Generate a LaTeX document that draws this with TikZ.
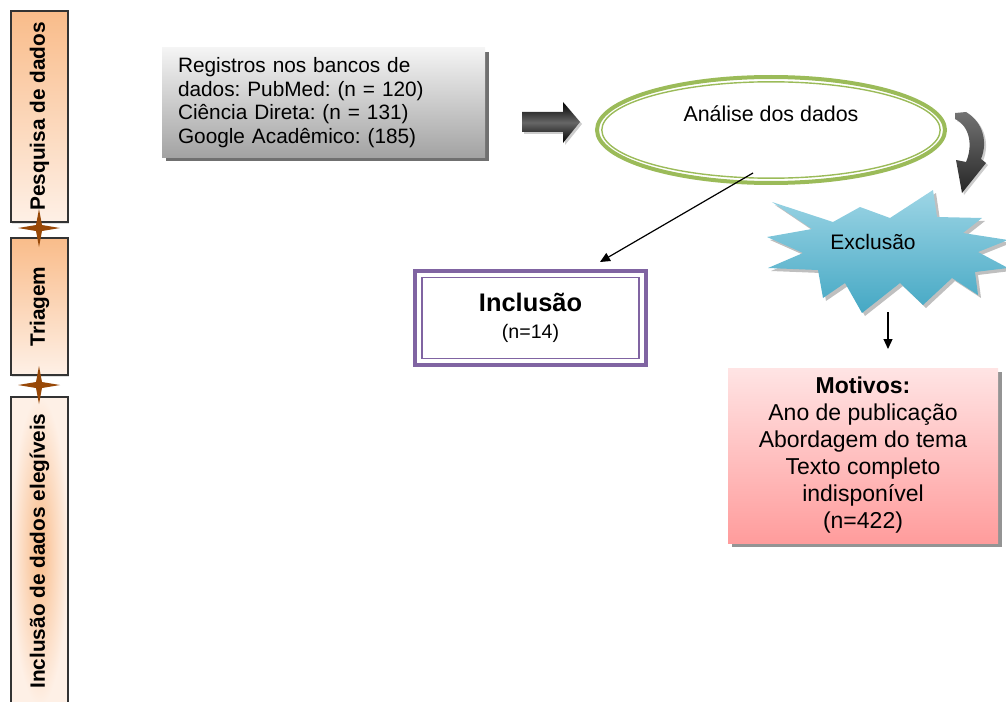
\documentclass[tikz,border=0pt]{standalone}
\usepackage{fontspec}
\setmainfont{Liberation Sans}
\usetikzlibrary{shapes.geometric, shadows, arrows.meta, positioning}
\frenchspacing

\definecolor{laranjaEsc}{HTML}{F9BC8A}
\definecolor{laranjaClaro}{HTML}{FEF0E6}
\definecolor{marrom}{HTML}{984807}
\definecolor{cinzaClaro}{HTML}{F4F4F4}
\definecolor{cinzaEsc}{HTML}{A3A3A3}
\definecolor{verde}{HTML}{9BBB59}
\definecolor{roxo}{HTML}{8064A2}
\definecolor{azulClaro}{HTML}{9DD5E5}
\definecolor{azul}{HTML}{45A8C4}
\definecolor{rosaClaro}{HTML}{FFE4E4}
\definecolor{rosa}{HTML}{FF9C9C}

\begin{document}
\begin{tikzpicture}[x=0.5pt, y=-0.5pt,
    coluna/.style={draw=black!80, line width=0.6pt, minimum width=28.5pt, inner sep=0pt,
        top color=laranjaEsc, bottom color=laranjaClaro,
        drop shadow={shadow xshift=0.4pt, shadow yshift=-1pt, opacity=0.25}},
    rotulo/.style={rotate=90, font=\fontsize{10.4}{12}\selectfont\bfseries},
    seta/.style={line width=0.6pt, -{Triangle[length=5pt, width=4.5pt]}}
]
    \useasboundingbox (0,0) rectangle (1006,701);

    \node[coluna, minimum height=105.5pt, label={[rotulo]center:Pesquisa de dados}] (pesquisa) at (39.5,116.5) {};
    \node[coluna, minimum height=68.5pt, label={[rotulo]center:Triagem}] (triagem) at (39.5,306.5) {};
    \node[coluna, minimum height=154pt, inner color=laranjaEsc, outer color=laranjaClaro,
        label={[rotulo]center:Inclusão de dados elegíveis}] (elegiveis) at (39.5,551) {};
    \foreach \y in {228,385}
        \fill[marrom] (18,\y) -- (36,\y-3) -- (39,\y-19) -- (42,\y-3) -- (60,\y) -- (42,\y+3) -- (39,\y+19) -- (36,\y+3) -- cycle;

    \node[top color=cinzaClaro, bottom color=cinzaEsc, minimum width=161.5pt, minimum height=54.5pt,
        text width=145.5pt, inner xsep=8pt, align=left, font=\fontsize{10.4}{11.75}\selectfont,
        drop shadow={shadow xshift=2pt, shadow yshift=-2pt, fill=black!70, opacity=0.8}] (registros) at (323.5,102.5)
        {Registros nos bancos de\\dados: PubMed: (n = 120)\\Ciência Direta: (n = 131)\\Google Acadêmico: (185)};

    \shade[top color=black, bottom color=black, middle color=black!60,
        drop shadow={shadow xshift=1pt, shadow yshift=-1pt, opacity=0.4}]
        (522,112) -- (563,112) -- (563,102) -- (580,122) -- (563,143) -- (563,132) -- (522,132) -- cycle;

    \node[ellipse, draw=verde, line width=2pt, minimum width=174pt, minimum height=53pt,
        label={[yshift=8pt, font=\fontsize{10.7}{12}\selectfont]center:Análise dos dados}] (analise) at (771,130) {};
    \draw[verde, line width=0.7pt] (analise.center) ellipse [x radius=84.6pt, y radius=24.1pt];

    \shade[top color=black!55, bottom color=black!85,
        drop shadow={shadow xshift=1pt, shadow yshift=-1pt, opacity=0.4}]
        (955,113) -- (966,112) .. controls (983,122) and (988,142) .. (981,159) -- (986,163) -- (962,193)
        -- (956,160) -- (966,162) .. controls (973,146) and (970,126) .. (955,119) -- cycle;

    \shade[top color=azulClaro, bottom color=azul,
        drop shadow={shadow xshift=1.5pt, shadow yshift=-1.5pt, fill=black!50, opacity=0.5}]
        (772,202) -- (833,222) -- (860,207) -- (890,218) -- (933,190) -- (937,217) -- (982,218) -- (963,233)
        -- (1008,240) -- (978,252) -- (1008,268) -- (975,272) -- (978,295) -- (952,278) -- (923,305) -- (900,283)
        -- (862,313) -- (845,283) -- (823,298) -- (818,270) -- (768,268) -- (803,253) -- (767,237) -- (812,229) -- cycle;
    \node[font=\fontsize{10.5}{12}\selectfont] (exclusao) at (873,242) {Exclusão};

    \node[draw=roxo, line width=2pt, minimum width=115.5pt, minimum height=47pt, align=center,
        font=\fontsize{9.8}{13.5}\selectfont] (inclusao) at (530.5,318)
        {{\fontsize{12.7}{13.5}\selectfont\bfseries Inclusão}\\(n=14)};
    \draw[roxo, line width=0.8pt] ([shift={(4.4pt,-4.2pt)}]inclusao.north west) rectangle ([shift={(-4.4pt,4.2pt)}]inclusao.south east);

    \node[top color=rosaClaro, bottom color=rosa, minimum width=135pt, minimum height=87.5pt, align=center,
        font=\fontsize{11.5}{13.5}\selectfont,
        drop shadow={shadow xshift=2pt, shadow yshift=-2pt, fill=black!60, opacity=0.7}] (motivos) at (863,455.5)
        {{\bfseries Motivos:}\\Ano de publicação\\Abordagem do tema\\Texto completo\\indisponível\\(n=422)};

    \coordinate (analise-saida) at (753,173);
    \coordinate (inclusao-entrada) at (600,262);
    \draw[seta] (analise-saida) -- (inclusao-entrada);
    \coordinate (exclusao-saida) at (888,312);
    \coordinate (motivos-entrada) at (888,349);
    \draw[seta] (exclusao-saida) -- (motivos-entrada);
\end{tikzpicture}
\end{document}
